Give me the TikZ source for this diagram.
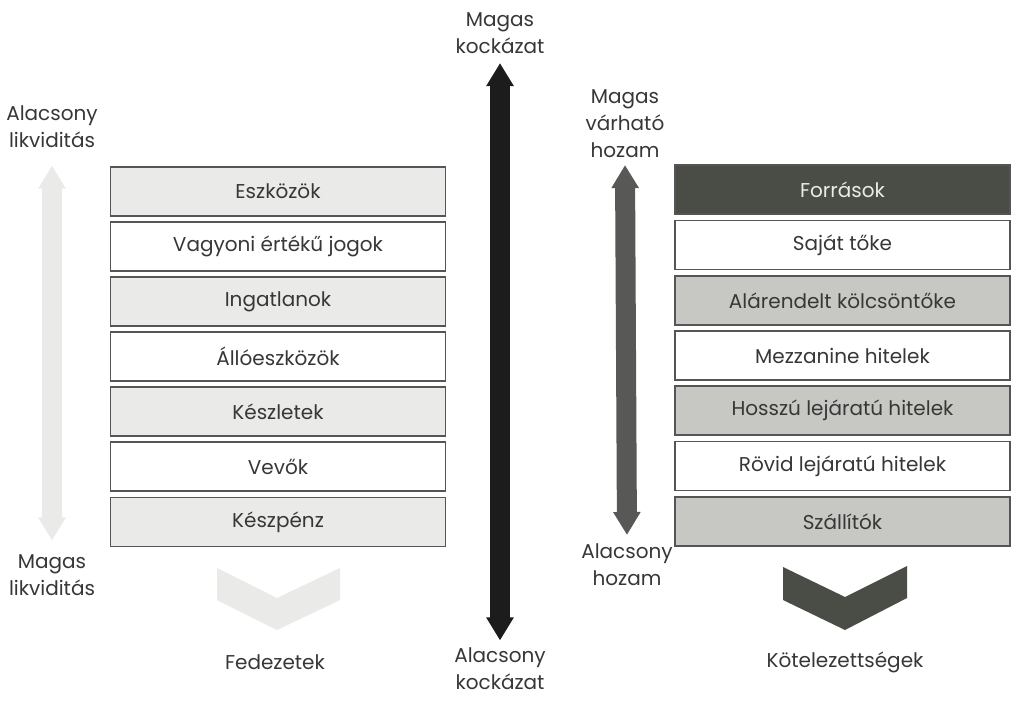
\documentclass[tikz,border=0pt]{standalone}
\usepackage{fontspec}
\setmainfont{Poppins}
\usetikzlibrary{arrows.meta}

\definecolor{inkgray}{RGB}{55,55,55}
\definecolor{boxline}{RGB}{85,85,85}
\definecolor{palegray}{RGB}{234,234,232}
\definecolor{midgray}{RGB}{199,200,195}
\definecolor{darkolive}{RGB}{74,77,69}
\definecolor{arrowgray}{RGB}{88,88,86}
\definecolor{arrowblack}{RGB}{28,28,28}

\tikzset{
   item/.style = {draw = boxline, line width = 0.6pt, minimum width = 167.5pt,
      minimum height = 24.5pt, inner sep = 0pt, text = inkgray,
      font = \fontsize{10}{13.5}\selectfont},
   side/.style = {align = center, text = inkgray, font = \fontsize{10}{13.5}\selectfont},
   bigarrow/.style = {line width = 10pt,
      {Triangle[width = 13pt, length = 11.5pt]}-{Triangle[width = 13pt, length = 11.5pt]}}
}

\begin{document}
\begin{tikzpicture}[x = 0.5pt, y = -0.5pt]
   \useasboundingbox (0,0) rectangle (1024,708);
   \fill[white] (0,0) rectangle (1024,708);
   % eszkozok oldal
   \node[item, fill = palegray] (eszkozok) at (278,191.5) {Eszközök};
   \node[item, fill = white] (jogok) at (278,246.5) {Vagyoni értékű jogok};
   \node[item, fill = palegray] (ingatlan) at (278,301.5) {Ingatlanok};
   \node[item, fill = white] (allo) at (278,356.5) {Állóeszközök};
   \node[item, fill = palegray] (keszlet) at (278,411.5) {Készletek};
   \node[item, fill = white] (vevok) at (278,466.5) {Vevők};
   \node[item, fill = palegray] (keszpenz) at (278,522) {Készpénz};
   % forrasok oldal
   \node[item, fill = darkolive, text = white!92!black] (forras) at (842.5,189.5) {Források};
   \node[item, fill = white] (toke) at (842.5,245) {Saját tőke};
   \node[item, fill = midgray] (alarendelt) at (842.5,300.5) {Alárendelt kölcsöntőke};
   \node[item, fill = white] (mezz) at (842.5,355.5) {Mezzanine hitelek};
   \node[item, fill = midgray] (hosszu) at (842.5,410.5) {Hosszú lejáratú hitelek};
   \node[item, fill = white] (rovid) at (842.5,466) {Rövid lejáratú hitelek};
   \node[item, fill = midgray] (szallito) at (842.5,521.5) {Szállítók};
   % feliratok
   \node[side] (lowliq) at (52,126.5) {Alacsony\\likviditás};
   \node[side] (highliq) at (52,575) {Magas\\likviditás};
   \node[side] (highrisk) at (500,33.5) {Magas\\kockázat};
   \node[side] (lowrisk) at (500,668.5) {Alacsony\\kockázat};
   \node[side] (highret) at (625,124) {Magas\\várható\\hozam};
   \node[side] (lowret) at (627,565) {Alacsony\\hozam};
   \node[side] (fedezet) at (275,662) {Fedezetek};
   \node[side] (kotelez) at (845,662) {Kötelezettségek};
   % nyilak
   \draw[bigarrow, palegray, shorten <= 5.5pt, shorten >= 3.5pt] (lowliq.south) -- (highliq.north);
   \draw[bigarrow, arrowblack, shorten <= 1pt] (highrisk.south) -- (lowrisk.north);
   \draw[bigarrow, arrowgray, shorten >= 1pt] (highret.south) -- (lowret.north);
   \fill[palegray] (217,568) -- (277,598) -- (340,568) -- (340,600) -- (277,630) -- (217,600) -- cycle;
   \fill[darkolive] (783,567) -- (845,597) -- (907,566) -- (907,598) -- (845,630) -- (783,600) -- cycle;
\end{tikzpicture}
\end{document}
